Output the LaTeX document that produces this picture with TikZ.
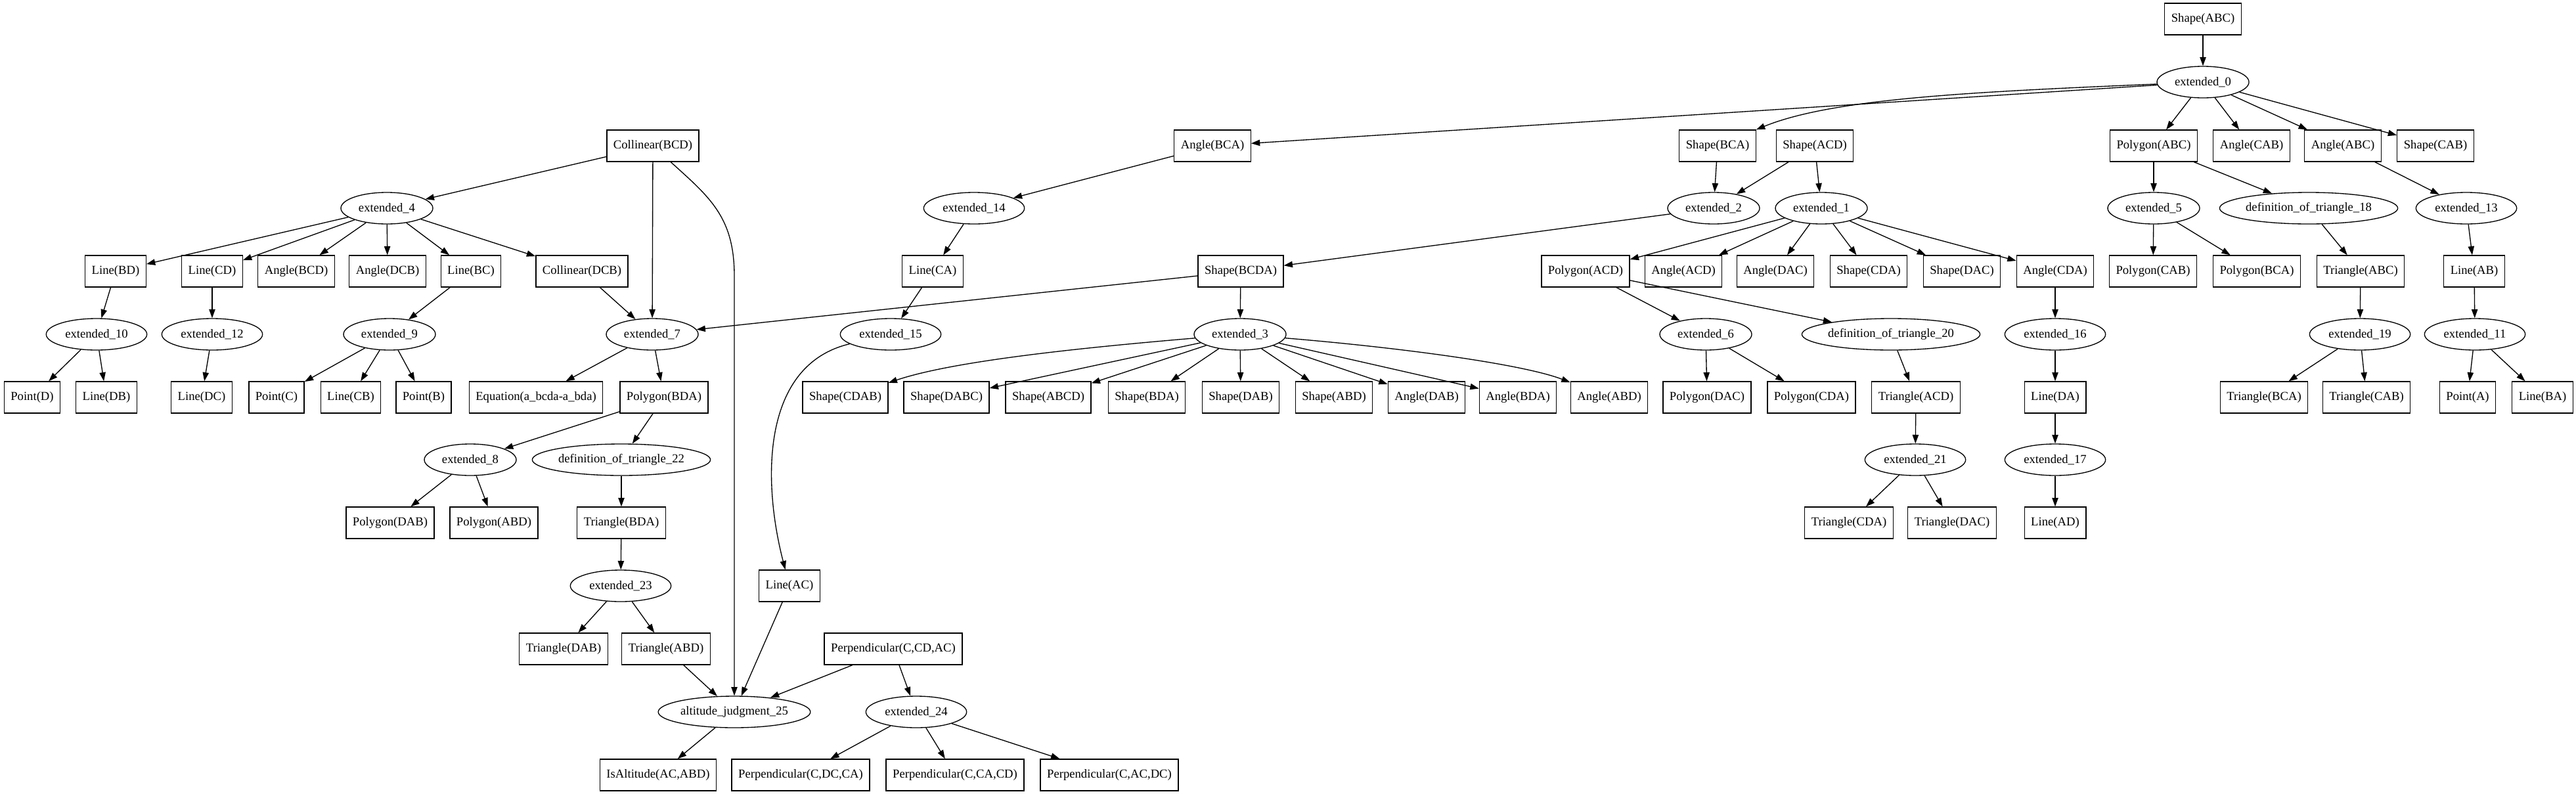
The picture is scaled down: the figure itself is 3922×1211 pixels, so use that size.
\documentclass[tikz,border=0pt]{standalone}
\usepackage{fontspec}
\newfontfamily\gvf{Liberation Serif}
\newcommand\gvfont{\gvf\fontsize{14pt}{16pt}\selectfont}
\usetikzlibrary{shapes.geometric,arrows.meta}
\tikzset{
 box/.style={draw, rectangle, line width=1pt, minimum height=36pt, minimum width=54pt, inner xsep=7.5pt, inner ysep=0pt, font=\gvfont},
 ell/.style={draw, ellipse, line width=1pt, minimum height=36pt, minimum width=105pt, inner sep=0pt, font=\gvfont},
 ellw/.style={ell, minimum width=115pt},
 arr/.style={-{Triangle[length=10pt,width=7pt]}, line width=1pt}
}
\begin{document}
\begin{tikzpicture}[x=0.75pt,y=-0.75pt]
\fill[white] (0,0) rectangle (3922,1211);
\path[use as bounding box] (0,0) rectangle (3922,1211);
% rank 0-1
\node[box] (sABC) at (3354,29) {Shape(ABC)};
\node[ell] (e0) at (3354,125) {extended\_0};
% rank 2
\node[box] (colBCD) at (994,222) {Collinear(BCD)};
\node[box] (aBCA) at (1846,222) {Angle(BCA)};
\node[box] (sBCA) at (2615,222) {Shape(BCA)};
\node[box] (sACD) at (2763,222) {Shape(ACD)};
\node[box] (pABC) at (3279,222) {Polygon(ABC)};
\node[box] (aCAB) at (3428,222) {Angle(CAB)};
\node[box] (aABC) at (3567,222) {Angle(ABC)};
\node[box] (sCAB) at (3708,222) {Shape(CAB)};
% rank 3
\node[ell] (e4) at (589,317) {extended\_4};
\node[ellw] (e14) at (1483,317) {extended\_14};
\node[ell] (e2) at (2609,317) {extended\_2};
\node[ell] (e1) at (2773,317) {extended\_1};
\node[ell] (e5) at (3279,317) {extended\_5};
\node[ell] (dt18) at (3515,317) {definition\_of\_triangle\_18};
\node[ellw] (e13) at (3755,317) {extended\_13};
% rank 4
\node[box] (lBD) at (176,413) {Line(BD)};
\node[box] (lCD) at (323,413) {Line(CD)};
\node[box] (aBCD) at (451,413) {Angle(BCD)};
\node[box] (aDCB) at (590,413) {Angle(DCB)};
\node[box] (lBC) at (717,413) {Line(BC)};
\node[box] (colDCB) at (886,413) {Collinear(DCB)};
\node[box] (lCA) at (1420,413) {Line(CA)};
\node[box] (sBCDA) at (1889,413) {Shape(BCDA)};
\node[box] (pACD) at (2414,413) {Polygon(ACD)};
\node[box] (aACD) at (2563,413) {Angle(ACD)};
\node[box] (aDAC) at (2703,413) {Angle(DAC)};
\node[box] (sCDA) at (2845,413) {Shape(CDA)};
\node[box] (sDAC) at (2987,413) {Shape(DAC)};
\node[box] (aCDA) at (3129,413) {Angle(CDA)};
\node[box] (pCAB) at (3278,413) {Polygon(CAB)};
\node[box] (pBCA) at (3436,413) {Polygon(BCA)};
\node[box] (tABC) at (3594,413) {Triangle(ABC)};
\node[box] (lAB) at (3767,413) {Line(AB)};
% rank 5
\node[ellw] (e10) at (147,509) {extended\_10};
\node[ellw] (e12) at (323,509) {extended\_12};
\node[ell] (e9) at (593,509) {extended\_9};
\node[ell] (e7) at (993,509) {extended\_7};
\node[ellw] (e15) at (1356,509) {extended\_15};
\node[ell] (e3) at (1888,509) {extended\_3};
\node[ell] (e6) at (2597,509) {extended\_6};
\node[ell] (dt20) at (2879,509) {definition\_of\_triangle\_20};
\node[ellw] (e16) at (3129,509) {extended\_16};
\node[ellw] (e19) at (3593,509) {extended\_19};
\node[ellw] (e11) at (3768,509) {extended\_11};
% rank 6
\node[box] (ptD) at (49,605) {Point(D)};
\node[box] (lDB) at (162,605) {Line(DB)};
\node[box] (lDC) at (307,605) {Line(DC)};
\node[box] (ptC) at (421,605) {Point(C)};
\node[box] (lCB) at (534,605) {Line(CB)};
\node[box] (ptB) at (645,605) {Point(B)};
\node[box] (eq) at (816,605) {Equation(a\_bcda-a\_bda)};
\node[box] (pBDA) at (1011,605) {Polygon(BDA)};
\node[box] (sCDAB) at (1287,605) {Shape(CDAB)};
\node[box] (sDABC) at (1441,605) {Shape(DABC)};
\node[box] (sABCD) at (1596,605) {Shape(ABCD)};
\node[box] (sBDA) at (1746,605) {Shape(BDA)};
\node[box] (sDAB) at (1889,605) {Shape(DAB)};
\node[box] (sABD) at (2031,605) {Shape(ABD)};
\node[box] (aDAB) at (2172,605) {Angle(DAB)};
\node[box] (aBDA) at (2311,605) {Angle(BDA)};
\node[box] (aABD) at (2450,605) {Angle(ABD)};
\node[box] (pDAC) at (2599,605) {Polygon(DAC)};
\node[box] (pCDA) at (2758,605) {Polygon(CDA)};
\node[box] (tACD) at (2917,605) {Triangle(ACD)};
\node[box] (lDA) at (3129,605) {Line(DA)};
\node[box] (tBCA) at (3447,605) {Triangle(BCA)};
\node[box] (tCAB) at (3603,605) {Triangle(CAB)};
\node[box] (ptA) at (3757,605) {Point(A)};
\node[box] (lBA) at (3871,605) {Line(BA)};
% rank 7
\node[ell] (e8) at (716,700) {extended\_8};
\node[ell] (dt22) at (946,700) {definition\_of\_triangle\_22};
\node[ellw] (e21) at (2916,700) {extended\_21};
\node[ellw] (e17) at (3129,700) {extended\_17};
% rank 8
\node[box] (pDAB) at (594,796) {Polygon(DAB)};
\node[box] (pABD) at (752,796) {Polygon(ABD)};
\node[box] (tBDA) at (946,796) {Triangle(BDA)};
\node[box] (tCDA) at (2815,796) {Triangle(CDA)};
\node[box] (tDAC) at (2972,796) {Triangle(DAC)};
\node[box] (lAD) at (3129,796) {Line(AD)};
% rank 9
\node[ellw] (e23) at (945,892) {extended\_23};
\node[box] (lAC) at (1202,892) {Line(AC)};
% rank 10
\node[box] (tDAB) at (858,988) {Triangle(DAB)};
\node[box] (tABD) at (1014,988) {Triangle(ABD)};
\node[box] (perpA) at (1360,988) {Perpendicular(C,CD,AC)};
% rank 11
\node[ell] (alt) at (1118,1084) {altitude\_judgment\_25};
\node[ellw] (e24) at (1395,1084) {extended\_24};
% rank 12
\node[box] (isalt) at (1002,1180) {IsAltitude(AC,ABD)};
\node[box] (perpB) at (1219,1180) {Perpendicular(C,DC,CA)};
\node[box] (perpC) at (1454,1180) {Perpendicular(C,CA,CD)};
\node[box] (perpD) at (1689,1180) {Perpendicular(C,AC,DC)};
% edges
\draw[arr] (sABC) -- (e0);
\draw[arr] (e0) -- (aBCA);
\draw[arr] (e0) .. controls (3000,140) and (2790,150) .. (sBCA.north east);
\foreach \t in {pABC,aCAB,aABC,sCAB} \draw[arr] (e0) -- (\t);
\draw[arr] (colBCD) -- (e4);
\draw[arr] (colBCD) -- (e7);
\draw[arr] (colBCD) .. controls (1080,300) and (1118,330) .. (1118,420) -- (alt);
\draw[arr] (aBCA) -- (e14);
\draw[arr] (sBCA) -- (e2);
\draw[arr] (sACD) -- (e2);
\draw[arr] (sACD) -- (e1);
\draw[arr] (pABC) -- (e5);
\draw[arr] (pABC) -- (dt18);
\draw[arr] (aABC) -- (e13);
\foreach \t in {lBD,lCD,aBCD,aDCB,lBC,colDCB} \draw[arr] (e4) -- (\t);
\draw[arr] (e14) -- (lCA);
\draw[arr] (e2) -- (sBCDA);
\foreach \t in {pACD,aACD,aDAC,sCDA,sDAC,aCDA} \draw[arr] (e1) -- (\t);
\draw[arr] (e5) -- (pCAB);
\draw[arr] (e5) -- (pBCA);
\draw[arr] (dt18) -- (tABC);
\draw[arr] (e13) -- (lAB);
\draw[arr] (lBD) -- (e10);
\draw[arr] (lCD) -- (e12);
\draw[arr] (lBC) -- (e9);
\draw[arr] (colDCB) -- (e7);
\draw[arr] (lCA) -- (e15);
\draw[arr] (sBCDA) -- (e7);
\draw[arr] (sBCDA) -- (e3);
\draw[arr] (pACD) -- (e6);
\draw[arr] (pACD) -- (dt20);
\draw[arr] (aCDA) -- (e16);
\draw[arr] (tABC) -- (e19);
\draw[arr] (lAB) -- (e11);
\draw[arr] (e10) -- (ptD);
\draw[arr] (e10) -- (lDB);
\draw[arr] (e12) -- (lDC);
\draw[arr] (e9) -- (ptC);
\draw[arr] (e9) -- (lCB);
\draw[arr] (e9) -- (ptB);
\draw[arr] (e7) -- (eq);
\draw[arr] (e7) -- (pBDA);
\draw[arr] (e3) .. controls (1640,530) and (1450,550) .. (sCDAB);
\foreach \t in {sDABC,sABCD,sBDA,sDAB,sABD,aDAB,aBDA} \draw[arr] (e3) -- (\t);
\draw[arr] (e3) .. controls (2140,530) and (2320,555) .. (aABD);
\draw[arr] (e6) -- (pDAC);
\draw[arr] (e6) -- (pCDA);
\draw[arr] (dt20) -- (tACD);
\draw[arr] (e16) -- (lDA);
\draw[arr] (e19) -- (tBCA);
\draw[arr] (e19) -- (tCAB);
\draw[arr] (e11) -- (ptA);
\draw[arr] (e11) -- (lBA);
\draw[arr] (pBDA) -- (e8);
\draw[arr] (pBDA) -- (dt22);
\draw[arr] (tACD) -- (e21);
\draw[arr] (lDA) -- (e17);
\draw[arr] (e8) -- (pDAB);
\draw[arr] (e8) -- (pABD);
\draw[arr] (dt22) -- (tBDA);
\draw[arr] (e21) -- (tCDA);
\draw[arr] (e21) -- (tDAC);
\draw[arr] (e17) -- (lAD);
\draw[arr] (tBDA) -- (e23);
\draw[arr] (e15) .. controls (1160,555) and (1160,730) .. (lAC);
\draw[arr] (e23) -- (tDAB);
\draw[arr] (e23) -- (tABD);
\draw[arr] (tABD) -- (alt);
\draw[arr] (lAC) -- (alt);
\draw[arr] (perpA) -- (alt);
\draw[arr] (perpA) -- (e24);
\draw[arr] (alt) -- (isalt);
\draw[arr] (e24) -- (perpB);
\draw[arr] (e24) -- (perpC);
\draw[arr] (e24) -- (perpD);
\end{tikzpicture}
\end{document}
